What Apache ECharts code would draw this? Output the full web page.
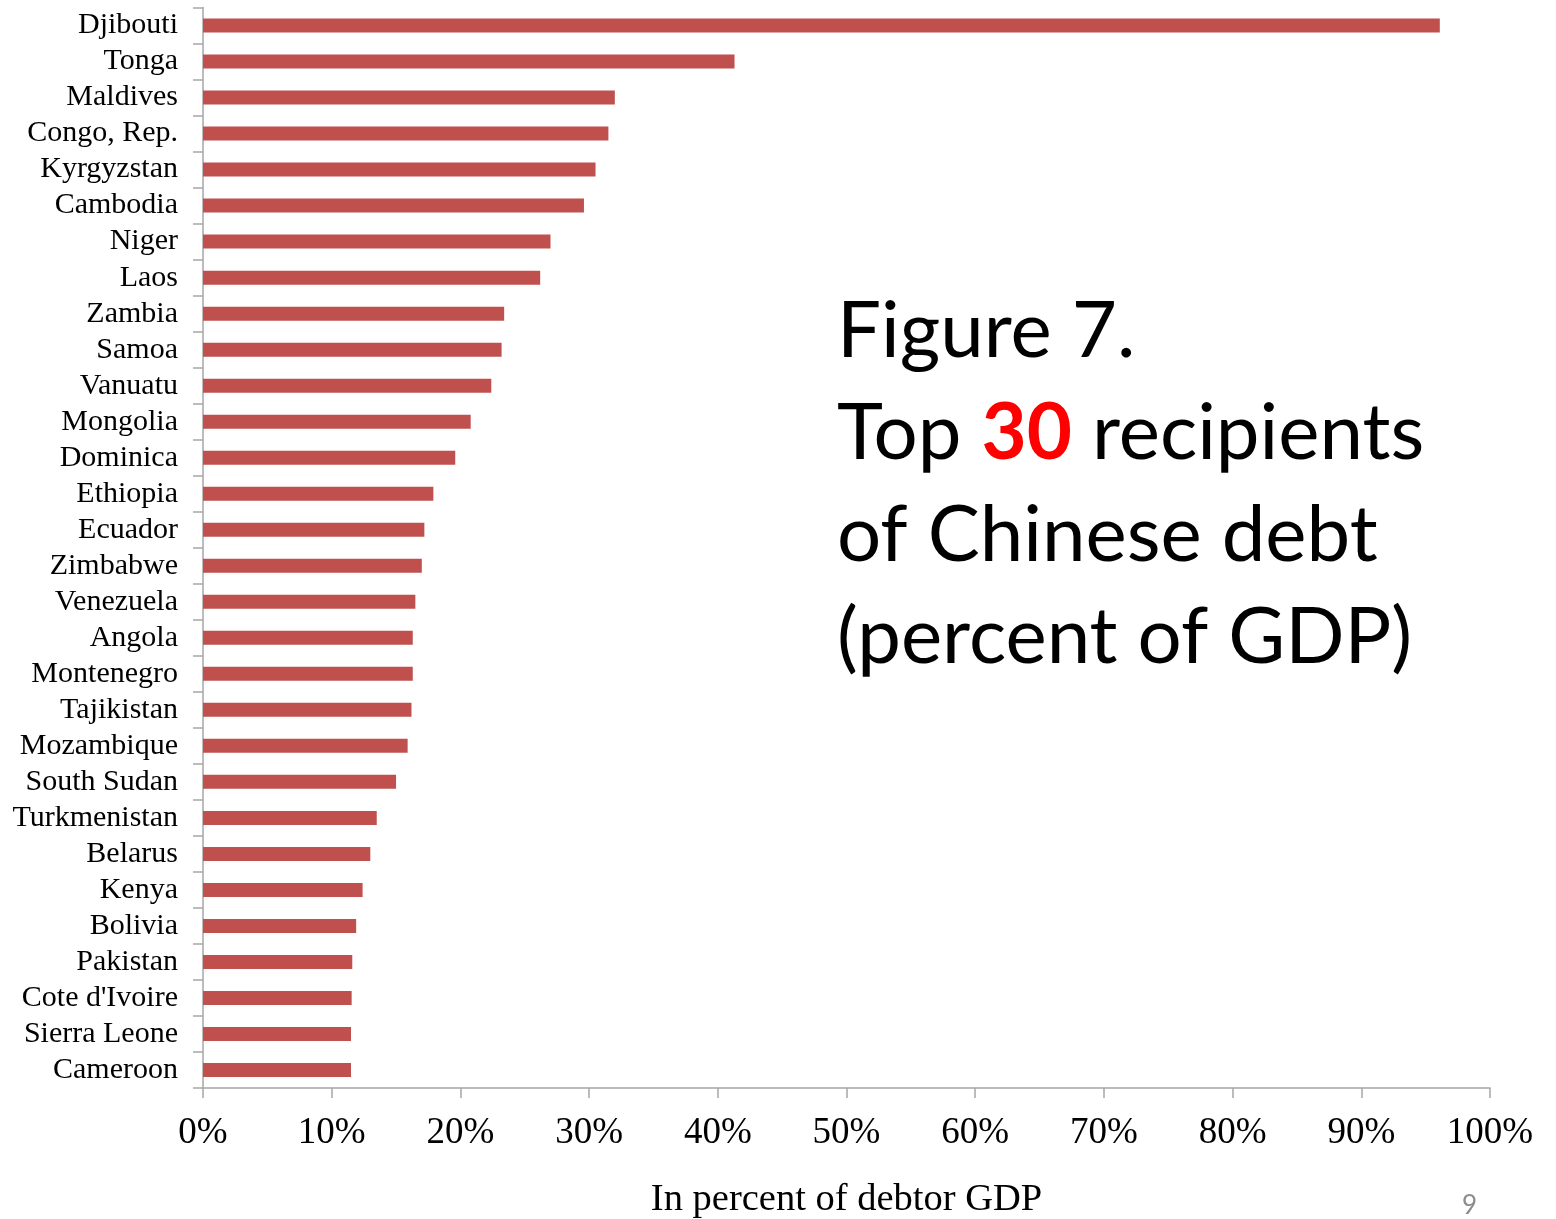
<!DOCTYPE html>
<html>
<head>
<meta charset="utf-8">
<script src="https://cdn.jsdelivr.net/npm/echarts@6/dist/echarts.min.js"></script>
<style>
html,body{margin:0;padding:0;background:#fff;}
#chart{width:1556px;height:1219px;}
</style>
</head>
<body>
<div id="chart"></div>
<script>
const countries = ["Djibouti","Tonga","Maldives","Congo, Rep.","Kyrgyzstan","Cambodia","Niger","Laos","Zambia","Samoa","Vanuatu","Mongolia","Dominica","Ethiopia","Ecuador","Zimbabwe","Venezuela","Angola","Montenegro","Tajikistan","Mozambique","South Sudan","Turkmenistan","Belarus","Kenya","Bolivia","Pakistan","Cote d'Ivoire","Sierra Leone","Cameroon"];
const debtPctGDP = [96.1,41.3,32.0,31.5,30.5,29.6,27.0,26.2,23.4,23.2,22.4,20.8,19.6,17.9,17.2,17.0,16.5,16.3,16.3,16.2,15.9,15.0,13.5,13.0,12.4,11.9,11.6,11.55,11.5,11.5];
const xTicks = [0,10,20,30,40,50,60,70,80,90,100];
const xAxisTitle = "In percent of debtor GDP";
const pageNumber = "9";

const chart = echarts.init(document.getElementById('chart'), null, {renderer:'canvas'});
const serif = "'Liberation Serif','Times New Roman',serif";
const sans = "Lato,'Open Sans',sans-serif";
chart.setOption({
  animation:false,
  backgroundColor:'#ffffff',
  grid:{left:203,right:66,top:7.5,bottom:131,containLabel:false,outerBoundsMode:'none'},
  title:{
    left:832, top:276,
    text:'{a|Figure 7.}\n{a|Top }{b|30}{a| recipients}\n{a|of Chinese debt}\n{a|(percent of GDP)}',
    textStyle:{
      fontWeight:'normal',
      rich:{
        a:{fontFamily:sans,fontSize:78,fontWeight:'normal',color:'#000',lineHeight:102},
        b:{fontFamily:sans,fontSize:78,fontWeight:'bold',color:'#ff0000',lineHeight:102}
      }
    }
  },
  graphic:[{
    type:'text', left:1462, top:1193,
    style:{text:pageNumber, fontFamily:sans, fontSize:26, fill:'#8c8c8c'}
  }],
  xAxis:{
    type:'value', min:0, max:100, interval:10,
    name:xAxisTitle, nameLocation:'middle', nameGap:92,
    nameTextStyle:{fontFamily:serif,fontSize:38.5,color:'#000'},
    axisLine:{show:true,lineStyle:{color:'#a6a6a6',width:1.5}},
    axisTick:{show:true,length:10,lineStyle:{color:'#a6a6a6',width:1.5}},
    splitLine:{show:false},
    axisLabel:{
      fontFamily:serif,fontSize:37,color:'#000',margin:27,
      formatter:function(v){return xTicks.indexOf(v)>=0 ? v+'%' : '';}
    }
  },
  yAxis:{
    type:'category', data:countries, inverse:true,
    axisLine:{show:true,lineStyle:{color:'#a6a6a6',width:1.5}},
    axisTick:{show:true,length:10,inside:false,lineStyle:{color:'#a6a6a6',width:1.5}},
    axisLabel:{fontFamily:serif,fontSize:30,color:'#000',margin:25,interval:0}
  },
  series:[{
    type:'bar', data:debtPctGDP, barWidth:14,
    itemStyle:{color:'#c0504d'}
  }]
});
</script>
</body>
</html>
